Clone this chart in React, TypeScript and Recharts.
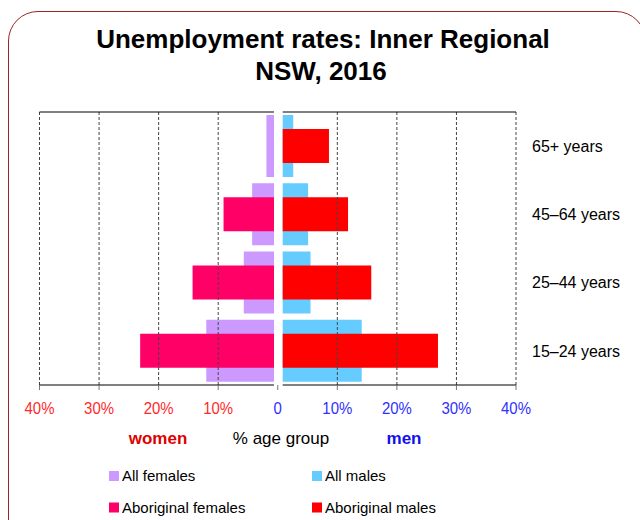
import React from "react";
import { BarChart, Bar, XAxis, YAxis, ReferenceLine } from "recharts";

// age groups, top to bottom
const AGES = ["65+ years", "45–64 years", "25–44 years", "15–24 years"];

// unemployment rate, % of age group
const ALL_FEMALES = [1.9, 4.3, 5.7, 12.0];
const ABORIGINAL_FEMALES = [0, 9.1, 14.3, 23.1];
const ALL_MALES = [2.6, 5.1, 5.5, 14.1];
const ABORIGINAL_MALES = [8.6, 11.8, 15.7, 26.9];

const X_TICKS = [-40, -30, -20, -10, 0, 10, 20, 30, 40];
const GRID_X = [-40, -30, -20, -10, 10, 20, 30, 40];

// the two halves don't quite meet at zero
const GAP_L = 0.63;
const GAP_R = 0.83;

const FONT = '"Liberation Sans", Arial, sans-serif';
const RED = "#ff2a2a";
const BLUE = "#3030ff";

const SERIES = [
  { key: "allF", name: "All females", color: "#cc99ff" },
  { key: "allM", name: "All males", color: "#66ccff" },
  { key: "abF", name: "Aboriginal females", color: "#ff0066" },
  { key: "abM", name: "Aboriginal males", color: "#ff0000" },
];

const left = (v: number) => [-Math.max(v, GAP_L), -GAP_L];
const right = (v: number) => [GAP_R, Math.max(v, GAP_R)];

const data = AGES.map((age, i) => ({
  age,
  allF: left(ALL_FEMALES[i]),
  abF: left(ABORIGINAL_FEMALES[i]),
  allM: right(ALL_MALES[i]),
  abM: right(ABORIGINAL_MALES[i]),
}));

function PctTick({ x, y, payload }: any) {
  const v = payload.value;
  const label = v === 0 ? "0" : `${Math.abs(v)}%`;
  return (
    <text
      transform={`translate(${x},${y + 22}) scale(0.88,1)`}
      textAnchor="middle"
      fontSize={17}
      fontFamily={FONT}
      fill={v < 0 ? RED : BLUE}
    >
      {label}
    </text>
  );
}

function AgeTick({ x, y, payload }: any) {
  return (
    <text x={x} y={y} dy="0.355em" textAnchor="start" fontSize={16} fontFamily={FONT} fill="#000">
      {payload.value}
    </text>
  );
}

export default function App() {
  return (
    <div style={{ position: "absolute", left: 0, top: 0, width: 640, height: 520, overflow: "hidden", background: "#fff" }}>
      <div
        style={{
          position: "absolute",
          left: 8,
          top: 11,
          width: 636,
          height: 540,
          border: "1.2px solid #9e2226",
          borderRadius: 30,
        }}
      />
      <div style={{ position: "absolute", left: 0, top: 0 }}>
        <BarChart
          width={640}
          height={420}
          data={data}
          layout="vertical"
          margin={{ top: 112, right: 14, bottom: 5, left: 39.5 }}
        >
          <XAxis
            type="number"
            domain={[-40, 40]}
            ticks={X_TICKS}
            axisLine={false}
            tickLine={{ stroke: "#777" }}
            tickSize={5}
            tick={<PctTick />}
          />
          <YAxis
            yAxisId="allF"
            type="category"
            dataKey="age"
            orientation="right"
            width={110}
            axisLine={false}
            tickLine={false}
            tickSize={0}
            tickMargin={16}
            tick={<AgeTick />}
          />
          <YAxis yAxisId="allM" type="category" dataKey="age" hide />
          <YAxis yAxisId="abF" type="category" dataKey="age" hide />
          <YAxis yAxisId="abM" type="category" dataKey="age" hide />
          {GRID_X.map((v) => (
            <ReferenceLine key={v} x={v} yAxisId="allF" stroke="#444" strokeDasharray="3 2" />
          ))}
          <Bar yAxisId="allF" dataKey="allF" fill="#cc99ff" barSize={62} isAnimationActive={false} />
          <Bar yAxisId="allM" dataKey="allM" fill="#66ccff" barSize={62} isAnimationActive={false} />
          <Bar yAxisId="abF" dataKey="abF" fill="#ff0066" barSize={34} isAnimationActive={false} />
          <Bar yAxisId="abM" dataKey="abM" fill="#ff0000" barSize={34} isAnimationActive={false} />
          <ReferenceLine
            yAxisId="allF"
            segment={[{ x: -40, y: AGES[0] }, { x: -GAP_L, y: AGES[0] }]}
            position="start"
            stroke="#000"
            ifOverflow="visible"
          />
          <ReferenceLine
            yAxisId="allF"
            segment={[{ x: GAP_R, y: AGES[0] }, { x: 40, y: AGES[0] }]}
            position="start"
            stroke="#000"
            ifOverflow="visible"
          />
          <ReferenceLine
            yAxisId="allF"
            segment={[{ x: -40, y: AGES[3] }, { x: -GAP_L, y: AGES[3] }]}
            position="end"
            stroke="#000"
            ifOverflow="visible"
          />
          <ReferenceLine
            yAxisId="allF"
            segment={[{ x: GAP_R, y: AGES[3] }, { x: 40, y: AGES[3] }]}
            position="end"
            stroke="#000"
            ifOverflow="visible"
          />
        </BarChart>
      </div>
      <svg width={640} height={520} style={{ position: "absolute", left: 0, top: 0, pointerEvents: "none" }}>
        <g fontFamily={FONT} textAnchor="middle">
          <text x={323} y={47.5} fontSize={26} fontWeight="bold" fill="#000">
            Unemployment rates: Inner Regional
          </text>
          <text x={321} y={80} fontSize={26} fontWeight="bold" fill="#000">
            NSW, 2016
          </text>
          <text x={158} y={444} fontSize={17} fontWeight="bold" fill="#e00000">
            women
          </text>
          <text x={281} y={444} fontSize={17} fill="#000">
            % age group
          </text>
          <text x={404} y={444} fontSize={17} fontWeight="bold" fill="#1010ee">
            men
          </text>
        </g>
        {SERIES.map((s, i) => {
          const lx = i % 2 === 0 ? 109 : 312;
          const ly = i < 2 ? 471 : 502.5;
          return (
            <g key={s.key}>
              <rect x={lx} y={ly} width={10} height={10} fill={s.color} />
              <text x={lx + 13} y={ly + 10} fontSize={15} fontFamily={FONT} fill="#000">
                {s.name}
              </text>
            </g>
          );
        })}
      </svg>
    </div>
  );
}
